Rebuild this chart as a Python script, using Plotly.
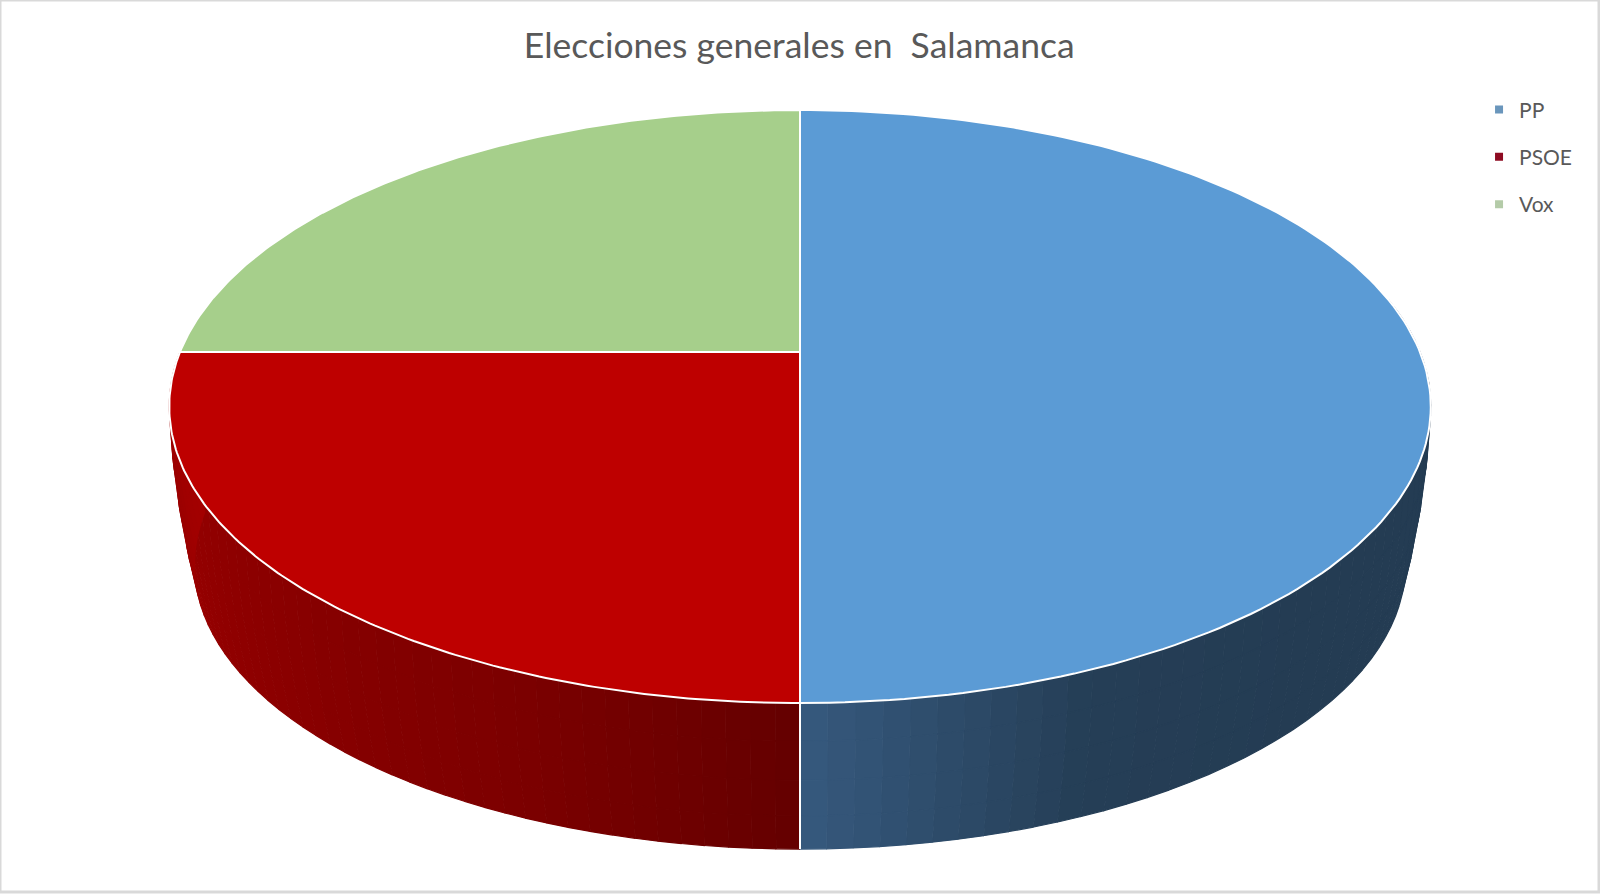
import numpy as np
import plotly.graph_objects as go

TITLE = "Elecciones generales en\u00a0 Salamanca"

parties = ["PP", "PSOE", "Vox"]
seats = [2, 1, 1]
top_colors = ["#5B9BD5", "#BE0000", "#A6CF8B"]
legend_colors = ["#6A96BC", "#8E0B22", "#B4CBA8"]

# wall shading, evenly spaced stops over the slice (clockwise from the top)
wall_stops = {
    "PP": ["#243C53", "#243C53", "#243C53", "#243C53", "#243C53",
           "#243C53", "#243C53", "#253E56", "#36597E"],
    "PSOE": ["#640000", "#7C0000", "#880000", "#950000", "#A40000"],
}

W, H = 1600, 894
CX, CY = 800, 352  # where the slices meet
PERSP = 0.184
RX, RY = 620, 286.5
# (scale, drop) of the rim going down the wall, the wall bulges a little
WALL_LEVELS = [(1.0, 0.0), (0.995, 40.0), (0.986, 82.0), (0.974, 122.0), (0.96, 160.0)]
BANDS = 48


def disc(theta, scale=1.0, drop=0.0):
    """projects a rim angle (0 = back, clockwise) to page pixels"""
    u, v = np.sin(theta), np.cos(theta)
    d = 1 + PERSP * v
    return CX + scale * RX * u / d, CY + drop - scale * RY * v / d


def hex_mix(stops, t):
    rgb = np.array([[int(s[i:i + 2], 16) for i in (1, 3, 5)] for s in stops], dtype=float)
    pos = np.linspace(0, 1, len(stops))
    vals = [np.interp(t, pos, rgb[:, c]) for c in range(3)]
    return "#%02X%02X%02X" % tuple(int(round(c)) for c in vals)


def poly_trace(xs, ys, fill, line_color=None, line_width=1.2):
    return go.Scatter(
        x=xs, y=ys, mode="lines", fill="toself", fillcolor=fill,
        line=dict(color=line_color or fill, width=line_width),
        hoverinfo="skip", showlegend=False,
    )


fracs = np.array(seats) / sum(seats)
edges = np.concatenate([[0], np.cumsum(fracs)]) * 2 * np.pi

fig = go.Figure()

# side wall, only the front half can be seen
front_from, front_to = np.pi * 0.44, np.pi * 1.56
for i, party in enumerate(parties):
    if party not in wall_stops:
        continue
    a0, a1 = max(edges[i], front_from), min(edges[i + 1], front_to)
    steps = np.linspace(a0, a1, BANDS + 1)
    for j in range(BANDS):
        ang = np.linspace(steps[j], steps[j + 1], 4)
        t = ((steps[j] + steps[j + 1]) / 2 - edges[i]) / (edges[i + 1] - edges[i])
        color = hex_mix(wall_stops[party], t)
        for upper, lower in zip(WALL_LEVELS[:-1], WALL_LEVELS[1:]):
            tx, ty = disc(ang, *upper)
            bx, by = disc(ang[::-1], *lower)
            fig.add_trace(poly_trace(np.concatenate([tx, bx]), np.concatenate([ty, by]), color))

# seam between the two walls
seam = np.array([edges[1]])
seam_top, seam_bottom = disc(seam), disc(seam, *WALL_LEVELS[-1])
fig.add_trace(go.Scatter(
    x=[seam_top[0][0], seam_bottom[0][0]], y=[seam_top[1][0], seam_bottom[1][0]], mode="lines",
    line=dict(color="#FFFFFF", width=2), hoverinfo="skip", showlegend=False,
))

# top of the pie
for i, party in enumerate(parties):
    ang = np.linspace(edges[i], edges[i + 1], 160)
    x, y = disc(ang)
    fig.add_trace(poly_trace(
        np.concatenate([[CX], x, [CX]]), np.concatenate([[CY], y, [CY]]),
        top_colors[i], "#FFFFFF", 2,
    ))

# legend swatches
for i, party in enumerate(parties):
    fig.add_trace(go.Scatter(
        x=[None], y=[None], mode="markers", name=party, legendgroup=party,
        marker=dict(symbol="square", size=8, color=legend_colors[i]),
    ))

# picture frame
fig.add_shape(type="rect", x0=0, y0=0, x1=W - 1, y1=H - 2,
              line=dict(color="#D9D9D9", width=3), fillcolor="rgba(0,0,0,0)")

fig.update_layout(
    width=W, height=H,
    margin=dict(l=0, r=0, t=0, b=0),
    paper_bgcolor="#FFFFFF", plot_bgcolor="#FFFFFF",
    font=dict(family="Lato", color="#595959"),
    title=dict(text=TITLE, x=0.4995, xanchor="center", y=0.949, yanchor="middle",
               font=dict(family="Lato", size=35.5, color="#595959")),
    xaxis=dict(range=[0, W], visible=False, fixedrange=True),
    yaxis=dict(range=[H, 0], visible=False, fixedrange=True),
    legend=dict(x=0.9244, y=0.9, xanchor="left", yanchor="top",
                font=dict(size=21, color="#595959"), tracegroupgap=17,
                itemsizing="trace", bgcolor="rgba(0,0,0,0)"),
)

# the page's default body margin would push the fixed-size chart off the window
fig.write_html("out.html", config={"displayModeBar": False},
               post_script="document.body.style.margin='0';document.body.style.overflow='hidden';")
